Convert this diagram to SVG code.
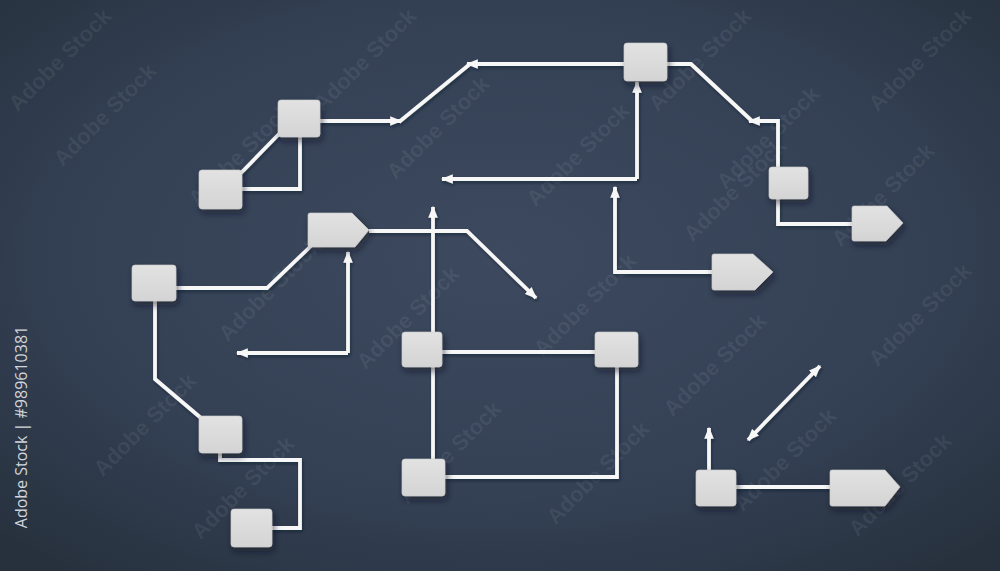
<svg xmlns="http://www.w3.org/2000/svg" width="1000" height="571" viewBox="0 0 1000 571">
<defs>
<radialGradient id="bg" cx="0.5" cy="0.45" r="0.7">
<stop offset="0" stop-color="#3c495e"/>
<stop offset="0.6" stop-color="#344155"/>
<stop offset="1" stop-color="#27313e"/>
</radialGradient>
<linearGradient id="nodeFill" x1="0" y1="0" x2="0" y2="1">
<stop offset="0" stop-color="#e2e2e2"/>
<stop offset="1" stop-color="#d4d4d4"/>
</linearGradient>
<filter id="shadow" x="-40%" y="-40%" width="180%" height="180%">
<feDropShadow dx="2" dy="4" stdDeviation="3.5" flood-color="#0d1420" flood-opacity="0.55"/>
</filter>
<filter id="lshadow" x="-10%" y="-10%" width="120%" height="120%">
<feDropShadow dx="1" dy="2" stdDeviation="1.5" flood-color="#0d1420" flood-opacity="0.45"/>
</filter>
<marker id="arr" viewBox="0 0 10 8" refX="9" refY="4" markerWidth="12" markerHeight="10" markerUnits="userSpaceOnUse" orient="auto-start-reverse">
<path d="M0,0 L10,4 L0,8 z" fill="#f7f7f7"/>
</marker>
</defs>
<style>
.node{fill:url(#nodeFill);stroke:#c9c9c9;stroke-width:0.6;filter:url(#shadow)}
.ln{fill:none;stroke:#f7f7f7;stroke-width:3.8;stroke-linejoin:miter;stroke-linecap:butt}
.ah{marker-end:url(#arr)}
.wm{font-family:"Liberation Sans",Arial,sans-serif;font-weight:bold;font-size:22px;fill:#ffffff;fill-opacity:0.07}
.id{font-family:"Open Sans","Liberation Sans",sans-serif;font-size:16px;fill:#d2d6dc}
</style>
<rect width="1000" height="571" fill="url(#bg)"/>

<g id="watermarks">
<text class="wm" text-anchor="middle" transform="translate(110,120) rotate(-45)">Adobe Stock</text>
<text class="wm" text-anchor="middle" transform="translate(245,160) rotate(-45)">Adobe Stock</text>
<text class="wm" text-anchor="middle" transform="translate(443,133) rotate(-45)">Adobe Stock</text>
<text class="wm" text-anchor="middle" transform="translate(583,160) rotate(-45)">Adobe Stock</text>
<text class="wm" text-anchor="middle" transform="translate(773,143) rotate(-45)">Adobe Stock</text>
<text class="wm" text-anchor="middle" transform="translate(888,200) rotate(-45)">Adobe Stock</text>
<text class="wm" text-anchor="middle" transform="translate(275,295) rotate(-45)">Adobe Stock</text>
<text class="wm" text-anchor="middle" transform="translate(413,323) rotate(-45)">Adobe Stock</text>
<text class="wm" text-anchor="middle" transform="translate(150,430) rotate(-45)">Adobe Stock</text>
<text class="wm" text-anchor="middle" transform="translate(248,493) rotate(-45)">Adobe Stock</text>
<text class="wm" text-anchor="middle" transform="translate(455,458) rotate(-45)">Adobe Stock</text>
<text class="wm" text-anchor="middle" transform="translate(603,478) rotate(-45)">Adobe Stock</text>
<text class="wm" text-anchor="middle" transform="translate(790,465) rotate(-45)">Adobe Stock</text>
<text class="wm" text-anchor="middle" transform="translate(720,370) rotate(-45)">Adobe Stock</text>
<text class="wm" text-anchor="middle" transform="translate(590,310) rotate(-45)">Adobe Stock</text>
<text class="wm" text-anchor="middle" transform="translate(740,195) rotate(-45)">Adobe Stock</text>
<text class="wm" text-anchor="middle" transform="translate(925,320) rotate(-45)">Adobe Stock</text>
<text class="wm" text-anchor="middle" transform="translate(905,490) rotate(-45)">Adobe Stock</text>
<text class="wm" text-anchor="middle" transform="translate(65,65) rotate(-45)">Adobe Stock</text>
<text class="wm" text-anchor="middle" transform="translate(370,65) rotate(-45)">Adobe Stock</text>
<text class="wm" text-anchor="middle" transform="translate(705,65) rotate(-45)">Adobe Stock</text>
<text class="wm" text-anchor="middle" transform="translate(925,65) rotate(-45)">Adobe Stock</text>
</g>

<text class="id" text-anchor="middle" transform="translate(27,427) rotate(-90)">Adobe Stock | #989610381</text>

<g id="connectors" filter="url(#lshadow)">
<path class="ln ah" d="M320,121 H401"/>
<path class="ln" d="M399,122 L470,64"/>
<path class="ln ah" d="M624,64 H467"/>
<path class="ln" d="M667,64 H691 L752,121"/>
<path class="ln ah" d="M778,167 V121 H749"/>
<path class="ln" d="M778,199 V224 H852"/>
<path class="ln ah" d="M637,179 V82"/>
<path class="ln ah" d="M637,179 H442"/>
<path class="ln ah" d="M369,231 H467 L536,298"/>
<path class="ln" d="M176,288 H267 L311,246"/>
<path class="ln ah" d="M348,353 V252"/>
<path class="ln ah" d="M348,353 H237"/>
<path class="ln ah" d="M433,459 V207"/>
<path class="ln" d="M442,352 H595"/>
<path class="ln" d="M445,477 H617 V367"/>
<path class="ln" d="M155,301 V379 L201,418"/>
<path class="ln" d="M220,453 V460 H300 V528 H272"/>
<path class="ln" d="M241,173 L279,134"/>
<path class="ln" d="M300,137 V189 H242"/>
<path class="ln ah" d="M712,272 H615 V187"/>
<path class="ln ah" d="M709,470 V428"/>
<path class="ln" d="M736,487 H830"/>
<path class="ln" d="M748,440 L820,366" marker-start="url(#arr)" marker-end="url(#arr)"/>
</g>

<g id="nodeA"><rect class="node" x="278" y="100" width="42" height="37" rx="3"/></g>
<g id="nodeB"><rect class="node" x="199" y="170" width="43" height="39" rx="3"/></g>
<g id="nodeC"><rect class="node" x="624" y="43" width="43" height="38" rx="3"/></g>
<g id="nodeD"><rect class="node" x="769" y="167" width="39" height="32" rx="3"/></g>
<g id="nodeE"><path class="node" d="M854,206 H887 L903,223 L886,241 H854 Q852,241 852,239 V208 Q852,206 854,206 z"/></g>
<g id="nodeF"><path class="node" d="M310,213 H352 L369,230 L355,247 H310 Q308,247 308,245 V215 Q308,213 310,213 z"/></g>
<g id="nodeG"><rect class="node" x="132" y="265" width="44" height="36" rx="3"/></g>
<g id="nodeH"><rect class="node" x="402" y="332" width="40" height="35" rx="3"/></g>
<g id="nodeJ"><rect class="node" x="595" y="332" width="43" height="35" rx="3"/></g>
<g id="nodeI"><rect class="node" x="402" y="459" width="43" height="37" rx="3"/></g>
<g id="nodeK"><rect class="node" x="199" y="416" width="43" height="37" rx="3"/></g>
<g id="nodeL"><rect class="node" x="231" y="509" width="41" height="38" rx="3"/></g>
<g id="nodeM"><path class="node" d="M714,254 H753 L773,272 L755,290 H714 Q712,290 712,288 V256 Q712,254 714,254 z"/></g>
<g id="nodeN"><rect class="node" x="696" y="470" width="40" height="36" rx="3"/></g>
<g id="nodeO"><path class="node" d="M832,470 H885 L900,487 L885,506 H832 Q830,506 830,504 V472 Q830,470 832,470 z"/></g>
</svg>
